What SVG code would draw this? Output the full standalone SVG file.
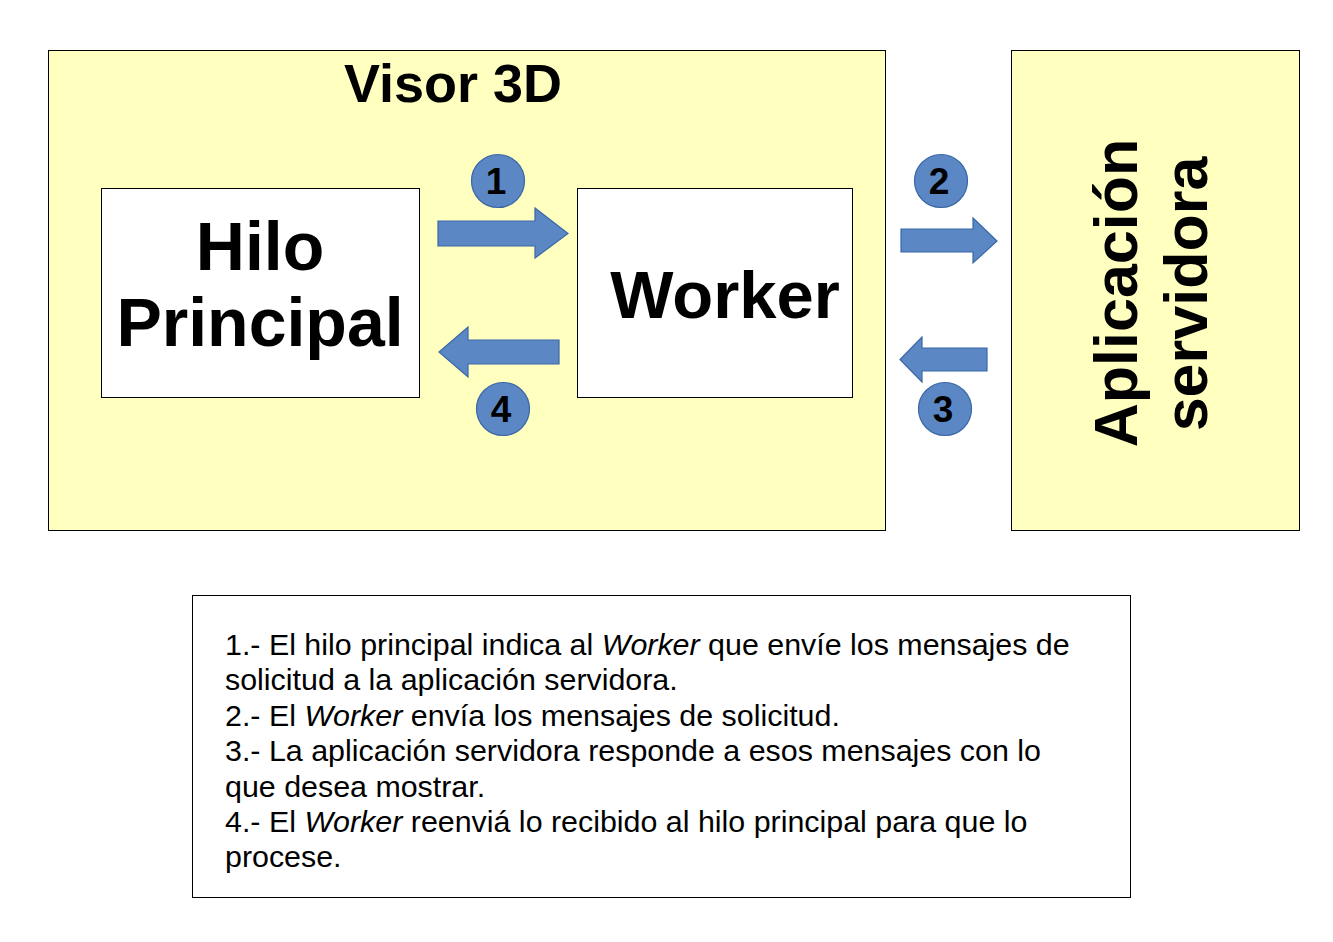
<svg xmlns="http://www.w3.org/2000/svg" width="1333" height="942" viewBox="0 0 1333 942">
<style>
.panel{fill:#ffffc0;stroke:#000;stroke-width:1}
.box{fill:#fff;stroke:#000;stroke-width:1}
.arr{fill:#5b88c4;stroke:#3a67a6;stroke-width:1.2}
.num{fill:#5b88c4;stroke:#3a67a6;stroke-width:1.2}
.t{font-family:"Liberation Sans",Arial,sans-serif;fill:#000}
.b{font-weight:bold}
.n{font-family:"Liberation Sans",Arial,sans-serif;font-weight:bold;font-size:37px;text-anchor:middle;fill:#000}
.desc{font-family:"Liberation Sans",Arial,sans-serif;font-size:30.4px;fill:#000}
</style>
<rect width="1333" height="942" fill="#fff"/>
<g id="visor">
<rect class="panel" x="48.5" y="50.5" width="837" height="480"/>
<text class="t b" x="453" y="102" font-size="54" text-anchor="middle">Visor 3D</text>
</g>
<g id="servidora">
<rect class="panel" x="1011.5" y="50.5" width="288" height="480"/>
<text class="t b" font-size="61" text-anchor="middle" transform="translate(1137 293) rotate(-90)">Aplicación</text>
<text class="t b" font-size="61" text-anchor="middle" transform="translate(1207 294) rotate(-90)">servidora</text>
</g>
<g id="hilo">
<rect class="box" x="101.5" y="188.5" width="318" height="209"/>
<text class="t b" font-size="68" text-anchor="middle" x="260" y="270">Hilo</text>
<text class="t b" font-size="68" text-anchor="middle" x="260" y="346">Principal</text>
</g>
<g id="worker">
<rect class="box" x="577.5" y="188.5" width="275" height="209"/>
<text class="t b" font-size="67" text-anchor="middle" x="725" y="318">Worker</text>
</g>
<g id="connectors">
<path class="arr" d="M438 221 H535 V208 L568 233.5 L535 258 V246 H438 Z"/>
<path class="arr" d="M559 340 H468 V327 L439 352 L468 377 V364 H559 Z"/>
<path class="arr" d="M901 229 H973 V218 L997 241 L973 263 V252 H901 Z"/>
<path class="arr" d="M987 348 H922 V337 L900 359.5 L922 382 V371 H987 Z"/>
</g>
<g id="n1"><circle class="num" cx="498" cy="181" r="26.5"/><text class="n" x="496" y="194">1</text></g>
<g id="n4"><circle class="num" cx="503" cy="409" r="26.5"/><text class="n" x="501" y="422">4</text></g>
<g id="n2"><circle class="num" cx="941" cy="181" r="26.5"/><text class="n" x="939" y="194">2</text></g>
<g id="n3"><circle class="num" cx="945" cy="409" r="26.5"/><text class="n" x="943" y="422">3</text></g>
<g id="legend">
<rect class="box" x="192.5" y="595.5" width="938" height="302"/>
<text class="desc">
<tspan x="225" y="655">1.- El hilo principal indica al <tspan font-style="italic">Worker</tspan> que envíe los mensajes de</tspan>
<tspan x="225" y="690.4">solicitud a la aplicación servidora.</tspan>
<tspan x="225" y="725.8">2.- El <tspan font-style="italic">Worker</tspan> envía los mensajes de solicitud.</tspan>
<tspan x="225" y="761.2">3.- La aplicación servidora responde a esos mensajes con lo</tspan>
<tspan x="225" y="796.6">que desea mostrar.</tspan>
<tspan x="225" y="832">4.- El <tspan font-style="italic">Worker</tspan> reenviá lo recibido al hilo principal para que lo</tspan>
<tspan x="225" y="867.4">procese.</tspan>
</text>
</g>
</svg>
